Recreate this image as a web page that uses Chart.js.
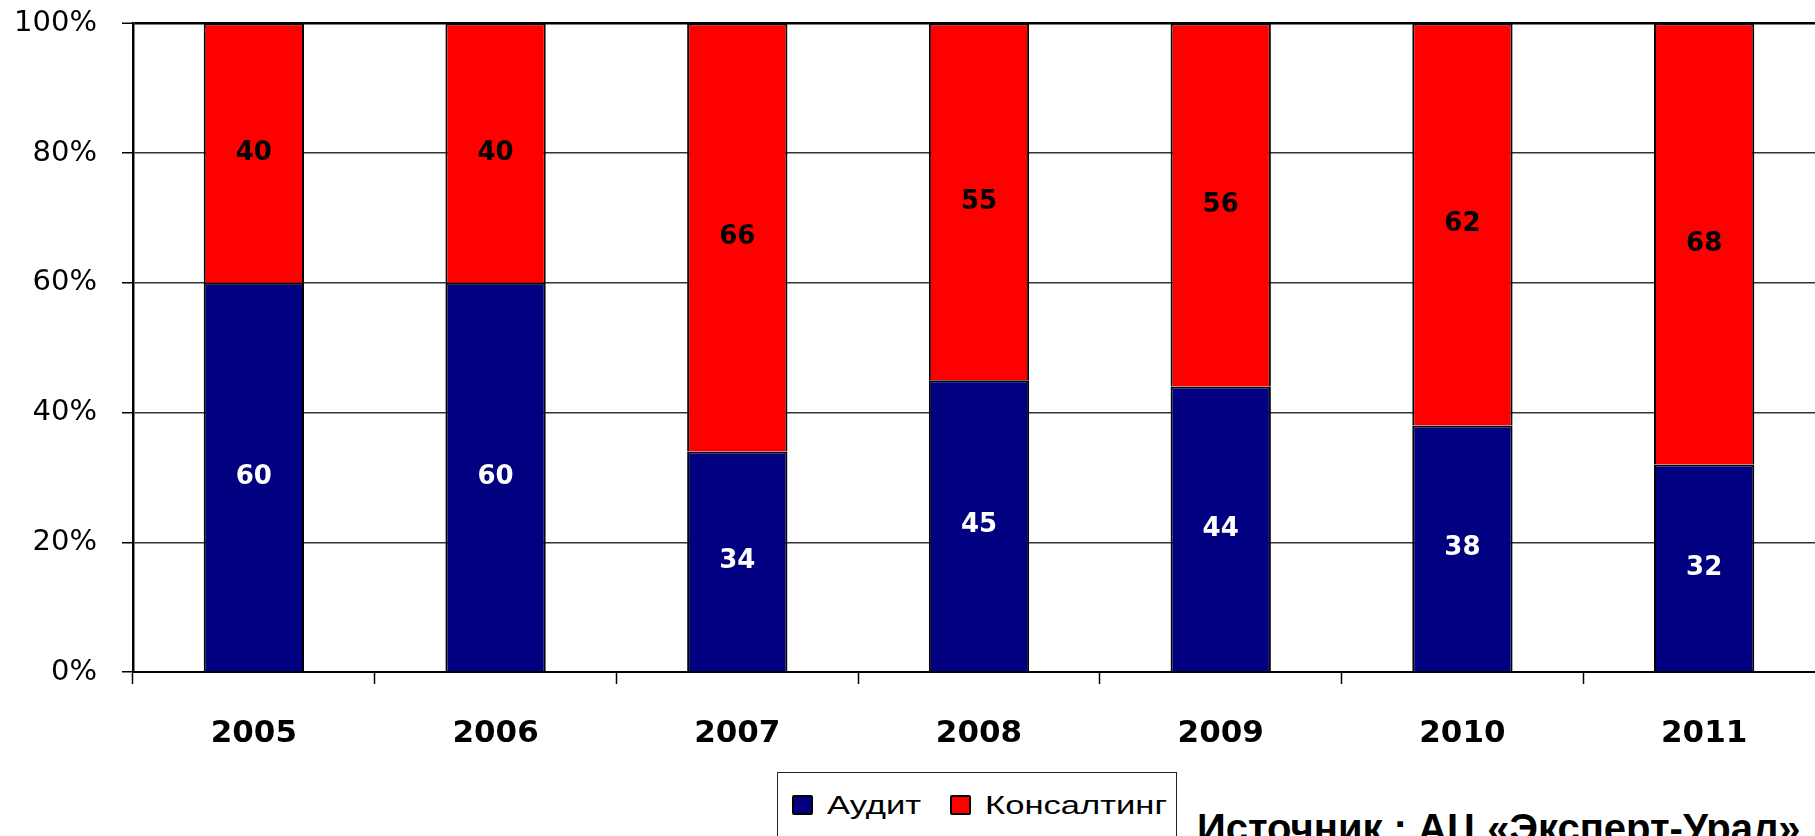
<!DOCTYPE html>
<html lang="ru">
<head>
    <meta charset="UTF-8">
    <title>Аудит и консалтинг</title>
    <script src="https://cdn.jsdelivr.net/npm/chart.js"></script>
    <style>
        html, body {
            margin: 0;
            padding: 0;
            background: #fff;
            overflow: hidden;
            width: 1815px;
            height: 836px;
        }
        /* the plot runs a little past the right and top edges, as in the original */
        #chartBox {
            position: absolute;
            left: 0;
            top: -19px;
            width: 1825px;
            height: 779px;
        }
        .legend {
            position: absolute;
            left: 777px;
            top: 772px;
            width: 400px;
            height: 120px;
            border: 1px solid #222;
            box-sizing: border-box;
        }
        .legend .sw {
            position: absolute;
            top: 22px;
            width: 17px;
            height: 16px;
            border: 2px solid #000;
            border-radius: 2px;
        }
        .legend .lbl {
            position: absolute;
            top: 19px;
            font-family: "Liberation Sans", Arial, sans-serif;
            font-size: 26px;
            line-height: 26px;
            color: #000;
            transform: scaleX(1.33);
            transform-origin: left top;
            white-space: nowrap;
        }
        .source {
            position: absolute;
            left: 1197px;
            top: 808px;
            font-family: "Liberation Sans", Arial, sans-serif;
            font-weight: bold;
            font-size: 40px;
            line-height: 40px;
            color: #000;
            white-space: nowrap;
        }
    </style>
</head>
<body>
    <div id="chartBox"><canvas id="shareChart"></canvas></div>

    <div class="legend">
        <div class="sw" style="left:14px; background:#000080;"></div>
        <div class="lbl" style="left:49px;">Аудит</div>
        <div class="sw" style="left:172px; background:#ff0000;"></div>
        <div class="lbl" style="left:207px;">Консалтинг</div>
    </div>
    <div class="source">Источник : АЦ «Эксперт-Урал»</div>

    <script>
        // data
        var years = ['2005', '2006', '2007', '2008', '2009', '2010', '2011'];
        var audit = [60, 60, 34, 45, 44, 38, 32];
        var consulting = [40, 40, 66, 55, 56, 62, 68];
        var yTicks = [0, 20, 40, 60, 80, 100];

        // value labels in the middle of each segment
        var segmentLabels = {
            id: 'segmentLabels',
            afterDatasetsDraw: function (chart) {
                var ctx = chart.ctx;
                ctx.save();
                ctx.font = 'bold 26px "DejaVu Sans", Verdana, sans-serif';
                ctx.textAlign = 'center';
                ctx.textBaseline = 'middle';
                chart.data.datasets.forEach(function (ds, i) {
                    var meta = chart.getDatasetMeta(i);
                    ctx.fillStyle = i === 0 ? '#ffffff' : '#000000';
                    meta.data.forEach(function (bar, j) {
                        var y = (bar.y + bar.base) / 2;
                        ctx.fillText(ds.data[j], bar.x, y);
                    });
                });
                ctx.restore();
            }
        };

        var shareChart = new Chart(document.getElementById('shareChart'), {
            type: 'bar',
            data: {
                labels: years,
                datasets: [{
                    label: 'Аудит',
                    data: audit,
                    backgroundColor: '#000080',
                    borderColor: '#000',
                    borderWidth: 2
                }, {
                    label: 'Консалтинг',
                    data: consulting,
                    backgroundColor: '#ff0000',
                    borderColor: '#000',
                    borderWidth: 2
                }]
            },
            options: {
                responsive: true,
                maintainAspectRatio: false,
                animation: false,
                categoryPercentage: 0.83,
                barPercentage: 0.5,
                layout: { padding: 0 },
                plugins: {
                    legend: { display: false },
                    tooltip: { enabled: false }
                },
                scales: {
                    x: {
                        stacked: true,
                        grid: {
                            drawOnChartArea: false,
                            drawTicks: true,
                            tickLength: 12,
                            tickColor: '#000',
                            tickWidth: 1.5
                        },
                        border: { color: '#000', width: 2 },
                        ticks: {
                            color: '#000',
                            padding: 31,
                            font: { family: '"DejaVu Sans", sans-serif', size: 31, weight: 'bold' }
                        },
                        afterFit: function (scale) { scale.height = 88; }
                    },
                    y: {
                        stacked: true,
                        min: 0,
                        max: 100,
                        afterBuildTicks: function (scale) {
                            scale.ticks = yTicks.map(function (v) { return { value: v }; });
                        },
                        grid: {
                            color: function (c) { return c.tick && c.tick.value === 100 ? '#000' : '#333'; },
                            lineWidth: function (c) { return c.tick && c.tick.value === 100 ? 2.5 : 1.5; },
                            tickLength: 11,
                            tickColor: '#000',
                            tickWidth: 1.5
                        },
                        border: { color: '#000', width: 2.5 },
                        ticks: {
                            color: '#000',
                            padding: 25,
                            font: { family: '"DejaVu Sans", sans-serif', size: 29 },
                            callback: function (v) { return v + '%'; }
                        },
                        afterFit: function (scale) { scale.width = 133; }
                    }
                }
            },
            plugins: [segmentLabels]
        });
    </script>
</body>
</html>
